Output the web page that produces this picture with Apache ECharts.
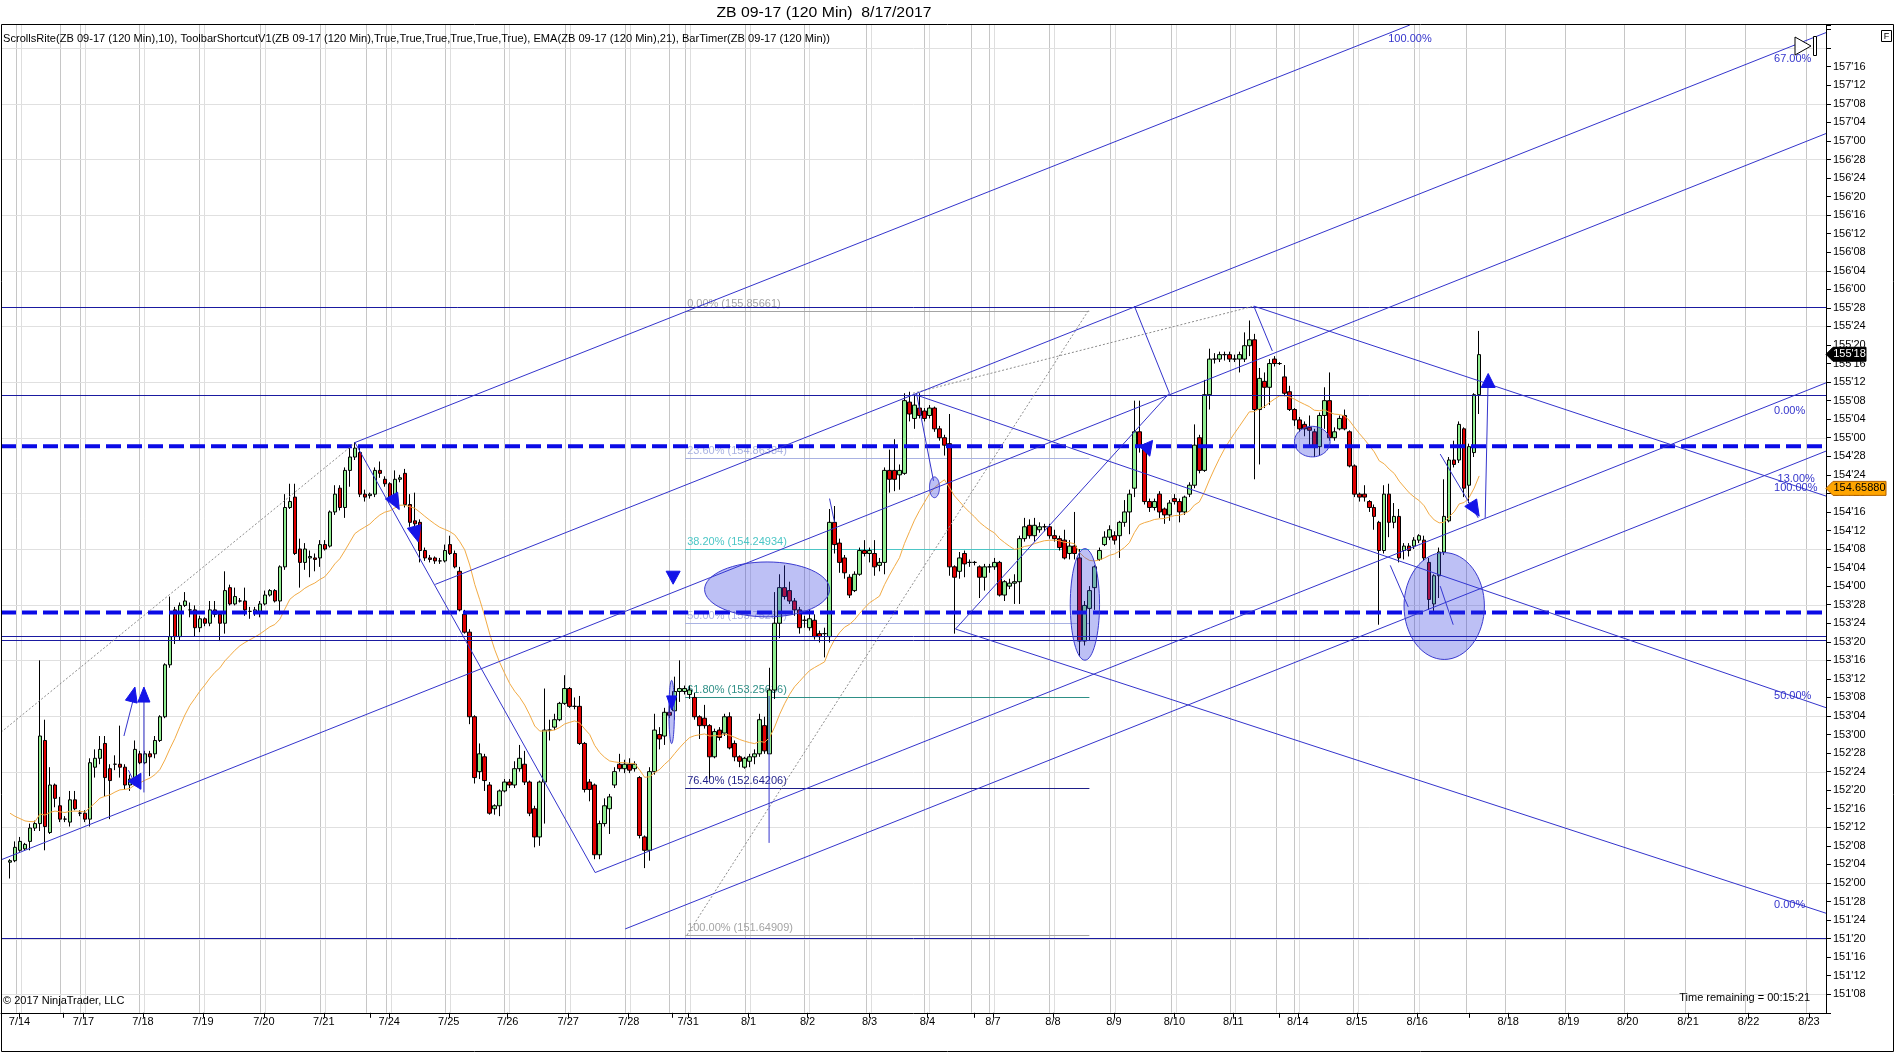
<!DOCTYPE html>
<html><head><meta charset="utf-8">
<script src="https://cdn.jsdelivr.net/npm/echarts@6/dist/echarts.min.js"></script>
<style>html,body{margin:0;padding:0;background:#fff;}#c{width:1896px;height:1055px;}</style>
</head><body><div id="c"></div>
<script>
// ---------- DATA (prices, 120-min bars, index 0..294) ----------
const opens = [152.14,152.15,152.22,152.23,152.28,152.37,152.40,152.96,152.34,152.66,
152.52,152.43,152.41,152.56,152.47,152.47,152.43,152.78,152.84,152.94,
152.77,152.80,152.80,152.78,152.66,152.71,152.87,152.81,152.87,152.87,
152.96,153.12,153.47,153.84,153.66,153.87,153.84,153.84,153.72,153.78,
153.75,153.84,153.81,153.75,153.99,153.88,153.90,153.90,153.83,153.82,
153.83,153.88,153.94,153.97,153.90,154.13,154.53,154.60,154.25,154.16,
154.19,154.19,154.19,154.28,154.27,154.50,154.66,154.53,154.78,154.87,
154.90,154.62,154.61,154.62,154.78,154.72,154.69,154.60,154.72,154.76,
154.55,154.44,154.43,154.24,154.19,154.19,154.17,154.17,154.28,154.22,
154.10,153.81,153.69,153.12,152.75,152.85,152.66,152.50,152.52,152.62,
152.68,152.66,152.77,152.80,152.68,152.50,152.31,152.68,153.03,153.05,
153.10,153.21,153.31,153.19,153.19,152.94,152.68,152.66,152.19,152.40,
152.50,152.66,152.80,152.77,152.80,152.77,152.71,152.31,152.22,152.75,
153.00,152.99,153.15,153.16,153.29,153.29,153.27,153.25,153.12,153.11,
153.06,152.85,153.03,153.01,153.12,152.94,152.85,152.78,152.82,152.85,
152.87,153.06,152.87,153.30,153.75,153.99,153.97,153.90,153.84,153.77,
153.72,153.77,153.68,153.68,153.66,154.43,154.29,154.19,154.06,153.97,
154.08,154.24,154.22,154.22,154.14,154.16,154.78,154.78,154.75,154.76,
155.24,155.13,155.20,155.18,155.15,155.20,155.06,155.00,154.96,154.13,
154.10,154.22,154.16,154.16,154.13,154.06,154.13,154.13,154.16,153.94,
154.00,154.02,154.03,154.32,154.41,154.34,154.38,154.40,154.40,154.34,
154.32,154.31,154.22,154.27,154.19,153.63,153.85,153.99,154.18,154.28,
154.33,154.34,154.34,154.43,154.50,154.66,155.04,154.94,154.57,154.53,
154.62,154.52,154.48,154.59,154.57,154.50,154.62,154.68,155.00,154.78,
155.29,155.53,155.53,155.56,155.56,155.53,155.53,155.53,155.62,155.66,
155.19,155.38,155.34,155.53,155.50,155.41,155.31,155.19,155.12,155.09,
155.07,155.04,154.94,155.15,155.25,155.00,155.06,155.15,155.04,154.81,
154.62,154.62,154.57,154.53,154.43,154.24,154.62,154.43,154.47,154.24,
154.27,154.27,154.31,154.31,154.16,153.88,154.07,154.23,154.44,154.85,
154.85,155.06,154.68,154.90,155.29];
const highs = [152.16,152.28,152.31,152.27,152.40,152.42,153.50,153.10,152.78,152.67,
152.58,152.45,152.62,152.62,152.49,152.49,152.84,152.90,152.99,152.99,
152.80,152.86,153.06,152.80,152.73,152.96,152.89,152.89,152.89,152.99,
153.13,153.48,153.93,153.86,153.89,153.96,153.89,153.87,153.80,153.79,
153.90,153.90,153.83,154.10,154.01,153.99,153.92,153.99,153.86,153.86,
153.90,153.97,153.98,153.98,154.14,154.62,154.69,154.69,154.32,154.29,
154.24,154.22,154.31,154.31,154.51,154.68,154.68,154.80,154.93,154.97,
154.93,154.65,154.63,154.80,154.84,154.74,154.70,154.78,154.75,154.79,
154.62,154.63,154.45,154.26,154.21,154.20,154.19,154.28,154.34,154.24,
154.13,153.84,153.71,153.13,152.94,152.87,152.68,152.53,152.63,152.70,
152.70,152.82,152.93,152.89,152.69,152.52,152.69,153.31,153.10,153.14,
153.22,153.40,153.32,153.25,153.26,152.95,152.70,152.67,152.42,152.57,
152.60,152.78,152.87,152.83,152.84,152.82,152.72,152.32,152.78,153.14,
153.05,153.18,153.20,153.39,153.50,153.33,153.33,153.28,153.13,153.20,
153.07,153.04,153.05,153.14,153.15,152.96,152.86,152.85,152.87,152.90,
153.14,153.12,153.45,153.96,154.08,154.14,154.03,153.92,153.86,153.80,
153.84,153.81,153.70,153.72,154.52,154.54,154.32,154.21,154.08,154.10,
154.26,154.31,154.26,154.31,154.19,154.80,154.92,154.99,154.82,155.30,
155.31,155.29,155.30,155.20,155.22,155.21,155.08,155.02,155.16,154.14,
154.23,154.24,154.18,154.17,154.14,154.15,154.15,154.19,154.17,154.04,
154.05,154.08,154.34,154.46,154.45,154.46,154.43,154.42,154.42,154.38,
154.34,154.38,154.31,154.50,154.25,153.90,154.00,154.14,154.26,154.37,
154.41,154.37,154.44,154.58,154.65,155.25,155.25,154.96,154.59,154.59,
154.64,154.53,154.58,154.62,154.59,154.61,154.70,155.09,155.02,155.39,
155.60,155.57,155.58,155.58,155.58,155.56,155.58,155.71,155.79,155.70,
155.47,155.44,155.53,155.55,155.51,155.49,155.35,155.20,155.14,155.11,
155.15,155.06,155.17,155.34,155.44,155.07,155.15,155.19,155.05,154.82,
154.63,154.68,154.58,154.55,154.44,154.68,154.69,154.56,154.52,154.29,
154.29,154.33,154.35,154.34,154.19,154.08,154.26,154.72,154.87,154.98,
155.11,155.07,154.96,155.30,155.72];
const lows = [152.03,152.14,152.21,152.22,152.22,152.35,152.35,152.22,152.33,152.51,
152.41,152.41,152.38,152.49,152.45,152.41,152.38,152.71,152.80,152.58,
152.43,152.76,152.71,152.63,152.62,152.67,152.80,152.80,152.72,152.84,
152.95,153.11,153.45,153.61,153.63,153.86,153.79,153.66,153.69,153.73,
153.73,153.79,153.63,153.68,153.87,153.87,153.89,153.80,153.78,153.80,
153.79,153.87,153.93,153.89,153.81,154.11,154.52,154.21,153.99,154.11,
154.06,154.10,154.13,154.24,154.26,154.48,154.51,154.46,154.67,154.85,
154.60,154.57,154.59,154.60,154.73,154.67,154.58,154.55,154.70,154.53,
154.40,154.38,154.16,154.17,154.16,154.15,154.15,154.16,154.21,154.12,
153.83,153.68,153.07,152.67,152.70,152.62,152.46,152.46,152.45,152.61,
152.64,152.64,152.75,152.66,152.45,152.24,152.25,152.40,152.96,153.03,
153.09,153.20,153.18,153.17,152.93,152.61,152.55,152.16,152.16,152.38,
152.33,152.64,152.75,152.74,152.74,152.75,152.30,152.10,152.15,152.73,
152.90,152.93,153.11,153.10,153.22,153.27,153.24,153.10,152.97,153.04,
152.70,152.84,152.96,152.99,152.90,152.82,152.78,152.77,152.78,152.80,
152.85,152.87,152.87,153.24,153.65,153.91,153.88,153.80,153.68,153.72,
153.70,153.64,153.62,153.52,153.62,154.22,154.09,154.05,153.92,153.96,
154.07,154.20,154.16,154.07,154.10,154.08,154.63,154.64,154.65,154.75,
155.11,155.06,155.13,155.11,155.13,155.04,154.98,154.88,154.07,153.68,
154.05,154.06,154.13,154.14,153.92,153.97,154.09,154.11,153.93,153.90,
153.98,153.88,153.88,154.30,154.32,154.30,154.36,154.37,154.32,154.30,
154.24,154.18,154.18,154.18,153.53,153.60,153.63,153.84,154.17,154.27,
154.31,154.28,154.19,154.40,154.35,154.60,154.90,154.55,154.50,154.51,
154.46,154.42,154.44,154.55,154.43,154.48,154.60,154.66,154.76,154.77,
155.19,155.50,155.51,155.52,155.51,155.51,155.44,155.51,155.55,154.72,
154.82,155.20,155.22,155.48,155.49,155.28,155.18,155.08,155.04,155.01,
154.95,154.87,154.88,155.06,154.98,154.98,155.05,155.05,154.80,154.60,
154.57,154.57,154.50,154.38,153.74,154.22,154.33,154.39,154.16,154.18,
154.20,154.25,154.29,154.17,153.84,153.82,153.92,154.21,154.43,154.80,
154.83,154.60,154.56,154.87,155.16];
const closes = [152.15,152.24,152.28,152.26,152.37,152.40,152.99,152.38,152.66,152.57,
152.43,152.43,152.56,152.50,152.47,152.43,152.81,152.84,152.90,152.71,
152.69,152.80,152.78,152.66,152.70,152.90,152.81,152.87,152.85,152.96,
153.12,153.47,153.66,153.66,153.87,153.90,153.84,153.72,153.78,153.75,
153.84,153.81,153.75,153.97,153.88,153.93,153.90,153.84,153.83,153.84,
153.88,153.94,153.97,153.90,154.13,154.53,154.57,154.22,154.16,154.25,
154.20,154.18,154.28,154.25,154.50,154.62,154.53,154.78,154.87,154.93,
154.62,154.60,154.62,154.78,154.76,154.69,154.60,154.72,154.73,154.55,
154.43,154.42,154.24,154.19,154.18,154.17,154.17,154.24,154.22,154.13,
153.84,153.69,153.12,152.71,152.87,152.69,152.47,152.52,152.62,152.68,
152.66,152.77,152.84,152.68,152.47,152.31,152.68,153.03,153.03,153.10,
153.21,153.31,153.19,153.19,152.94,152.63,152.63,152.19,152.40,152.52,
152.58,152.75,152.77,152.80,152.76,152.80,152.32,152.22,152.75,153.03,
152.97,153.15,153.13,153.29,153.31,153.31,153.30,153.12,153.06,153.06,
152.85,153.02,152.98,153.12,152.91,152.85,152.82,152.84,152.85,152.87,
153.10,152.89,153.30,153.75,153.99,153.93,153.90,153.84,153.72,153.77,
153.78,153.66,153.66,153.68,154.43,154.28,154.16,154.09,153.94,154.08,
154.24,154.22,154.24,154.13,154.16,154.78,154.72,154.72,154.78,155.25,
155.16,155.22,155.15,155.13,155.20,155.06,155.00,154.95,154.13,154.06,
154.19,154.15,154.16,154.16,154.06,154.13,154.13,154.16,153.94,154.03,
154.02,154.03,154.32,154.40,154.34,154.41,154.40,154.40,154.34,154.32,
154.26,154.19,154.27,154.22,153.63,153.87,153.97,154.13,154.24,154.33,
154.38,154.31,154.43,154.50,154.62,155.04,154.94,154.57,154.53,154.57,
154.50,154.48,154.56,154.57,154.50,154.60,154.68,154.95,154.78,155.29,
155.53,155.53,155.56,155.56,155.53,155.53,155.56,155.62,155.66,155.19,
155.40,155.34,155.50,155.50,155.50,155.30,155.19,155.12,155.06,155.06,
155.05,154.94,155.15,155.25,155.00,155.04,155.13,155.06,154.81,154.62,
154.60,154.60,154.53,154.47,154.24,154.62,154.43,154.47,154.19,154.27,
154.24,154.31,154.34,154.19,153.91,154.07,154.23,154.47,154.85,154.82,
155.09,154.66,154.94,155.29,155.56];
const emaStart = 152.47;      // EMA(21) value at the first visible bar
const emaPeriod = 21;

// x axis (bar index positions of date labels)
const dateLabels = ['7/14','7/17','7/18','7/19','7/20','7/21','7/24','7/25','7/26','7/27','7/28','7/31','8/1','8/2','8/3','8/4','8/7','8/8','8/9','8/10','8/11','8/14','8/15','8/16','8/18','8/19','8/20','8/21','8/22','8/23'];
const dateIdx = [1.9,14.7,26.6,38.6,50.8,62.8,75.9,87.8,99.6,111.7,123.8,135.7,147.8,159.6,172.0,183.6,196.7,208.7,220.9,233.0,244.8,257.7,269.5,281.6,299.8,311.9,323.7,335.8,347.9,360.0];
const extraTickIdx = [10.7,72.0,132.5,193.0,254.0,292.0];
const hGridLevels = [151.25,151.625,152.0,152.375,152.75,153.125,153.5,153.875,154.25,154.625,155.0,155.375,155.75,156.125,156.5,156.875,157.25,157.625];

// horizontal drawing levels
const solidLevels = [155.88,155.29,153.662,153.640,151.63];
const dashedLevels = [154.943,153.822];

// fibonacci retracement
const fibPct = ['0.00%','23.60%','38.20%','50.00%','61.80%','76.40%','100.00%'];
const fibVal = [155.85661,154.86384,154.24934,153.75285,153.25636,152.64206,151.64909];
const fibColor = ['#a4a4a4','#a9b2e2','#4cc6c6','#a9b2e2','#2e8f86','#1e1e88','#a4a4a4'];
const fibStart = 135.1, fibEnd = 216.0;

// trend / pitchfork lines [x1,p1,x2,p2]
const pitchLines = [
 [68.9,154.966,290,157.913],[85.1,154.012,363.4,157.73],[-2.0,152.153,363.4,157.05],
 [69.0,154.97,117.1,152.07],[117.1,152.07,363.4,155.37],[123.1,151.69,363.4,154.91],
 [181.2,155.29,363.4,153.181],[189.2,153.711,363.4,151.796],[248.9,155.887,363.4,154.607],
 [189.2,153.711,232.0,155.30],[225.0,155.887,232.0,155.30],[181.4,155.30,184.8,154.71],
 [248.9,155.887,252.6,155.585],
 [286.2,154.89,293.8,154.46],[295.2,154.46,295.8,155.41],[276.2,154.14,279.8,153.86],
 [286.2,154.00,288.8,153.74],[22.8,152.99,25.0,153.28],[26.8,152.61,26.8,153.28],
 [23.7,152.76,24.7,152.69],[151.9,153.26,151.9,152.27],[164.0,154.59,165.0,154.43]
];
const dottedLines = [[-2.0,153.01,68.9,154.96],[135.5,151.65,215.8,155.857],[180.7,155.30,248.9,155.887]];
// ellipses [centerIdx, centerPrice, radiusBars, radiusPrice]
const ellipses = [[151.5,153.978,12.5,0.185],[215.1,153.877,2.93,0.376],[185.0,154.666,1.0,0.07],[260.6,154.974,3.57,0.103],[287.0,153.866,8.04,0.36],[132.4,153.152,0.55,0.213]];
// arrows [tipIdx, tipPrice, angleDeg, length, halfWidth]
const arrows = [[25.0,153.32,-76,15,6],[26.8,153.32,-90,15,6],[23.6,152.685,180,13,8],[77.9,154.516,61,16,7],[81.7,154.298,75,16,7],[132.7,154.013,90,13,7],[132.4,153.166,90,14,5],[226.0,154.943,190,12,8],[295.8,155.433,-90,14,7],[294.0,154.471,58,16,7]];
// percentage labels of the pitchforks
const pctText = ['100.00%','67.00%','0.00%','13.00%','100.00%','50.00%','0.00%'];
const pctIdx = [275.8,353.0,353.0,353.7,353.0,353.0,353.0];
const pctPrice = [157.687,157.549,155.178,154.72,154.664,153.263,151.853];
// right axis markers
const markerPrice = [155.5625,154.6588];
const markerText = ["155'18",'154.65880'];

// ---------- CHART ----------
const X0 = -1.8, X1 = 363.4, Y0 = 151.125, Y1 = 157.78125;
const FONT = '"Liberation Sans", Arial, sans-serif';
const chart = echarts.init(document.getElementById('c'));

function clipSeg(x1,y1,x2,y2,r){
  let t0=0,t1=1; const dx=x2-x1, dy=y2-y1;
  const p=[-dx,dx,-dy,dy], q=[x1-r.x, r.x+r.width-x1, y1-r.y, r.y+r.height-y1];
  for(let i=0;i<4;i++){
    if(p[i]===0){ if(q[i]<0) return null; }
    else { const t=q[i]/p[i]; if(p[i]<0){ if(t>t1) return null; if(t>t0) t0=t; } else { if(t<t0) return null; if(t<t1) t1=t; } }
  }
  return [x1+t0*dx, y1+t0*dy, x1+t1*dx, y1+t1*dy];
}
function segSeries(arr, stroke, width, dash, z){
  return { type:'custom', z:z, silent:true, data: arr.map(s=>[s[0],s[1],s[2],s[3]]),
    renderItem:(params, api)=>{
      const a=api.coord([api.value(0),api.value(1)]), b=api.coord([api.value(2),api.value(3)]);
      const c=clipSeg(a[0],a[1],b[0],b[1],params.coordSys); if(!c) return;
      return {type:'line', shape:{x1:c[0],y1:c[1],x2:c[2],y2:c[3]}, style:{stroke:stroke,lineWidth:width,lineDash:dash||null}};
    }};
}
function fmt32(v){
  if (v < 151.2 || v > 157.55) return '';
  const i = Math.floor(v + 1e-9); const t = Math.round((v - i) * 32);
  return i + "'" + String(t).padStart(2,'0');
}
function dateFor(v){ let k=0, best=1e9; dateIdx.forEach((d,i)=>{ if(Math.abs(d-v)<best){best=Math.abs(d-v);k=i;} }); return dateLabels[k]; }

const candleData = opens.map((o,i)=>[i,o,closes[i],lows[i],highs[i]]);
// EMA(21) of the closes, as plotted by the original indicator
const emaData = []; let e = emaStart;
closes.forEach((c,i)=>{ if(i>0) e = e + (c-e)*2/(emaPeriod+1); emaData.push([i, e]); });

const vGrid = [];
dateIdx.forEach(d=>{ vGrid.push([d-0.7,0]); if(d<295) vGrid.push([d+0.3,1]); });
extraTickIdx.forEach(d=>vGrid.push([d-0.7,0]));

const mctx = document.createElement('canvas').getContext('2d');
function measure(t, font){ mctx.font = font; return mctx.measureText(t).width; }
const indText = 'ScrollsRite(ZB 09-17 (120 Min),10), ToolbarShortcutV1(ZB 09-17 (120 Min),True,True,True,True,True,True), EMA(ZB 09-17 (120 Min),21), BarTimer(ZB 09-17 (120 Min))';
const indScale = 827 / measure(indText, '11px ' + FONT);
const titleText = 'ZB 09-17 (120 Min)  8/17/2017';
const titleScale = 215 / measure(titleText, '14px ' + FONT);

const option = {
  animation:false, backgroundColor:'#fff',
  grid:{left:1, right:70, top:25, bottom:42.2, show:false},
  xAxis:{type:'value', min:X0, max:X1,
    axisLine:{show:true,onZero:false,lineStyle:{color:'#000',width:1}},
    axisTick:{show:true, customValues: dateIdx.concat(extraTickIdx), length:5, lineStyle:{color:'#000'}},
    axisLabel:{show:true, customValues: dateIdx, formatter: v=>dateFor(v), color:'#000', fontSize:11, fontFamily:FONT, margin:4},
    splitLine:{show:false}},
  yAxis:{type:'value', position:'right', min:Y0, max:Y1, interval:0.125, scale:true,
    axisLine:{show:true,onZero:false,lineStyle:{color:'#000'}},
    axisTick:{show:true,length:5,lineStyle:{color:'#000'}},
    axisLabel:{formatter:fmt32, color:'#000', fontSize:11, fontFamily:FONT, margin:7},
    splitLine:{show:false}},
  graphic:[
    {type:'rect', shape:{x:1.5,y:24.5,width:1892,height:1027}, style:{fill:null, stroke:'#000', lineWidth:1}, z:100, silent:true},
    {type:'text', x:944.5, y:13, scaleX:titleScale, originX:944.5, style:{text:titleText, font:'14px '+FONT, fill:'#000', align:'center', verticalAlign:'middle'}, z:100},
    {type:'text', x:3, y:39, scaleX:indScale, style:{text:indText, font:'11px '+FONT, fill:'#000', align:'left', verticalAlign:'middle'}, z:100},
    {type:'text', x:3, y:1001, style:{text:'\u00a9 2017 NinjaTrader, LLC', font:'11px '+FONT, fill:'#000', align:'left', verticalAlign:'middle'}, z:100},
    {type:'text', x:1810, y:998, style:{text:'Time remaining = 00:15:21', font:'11px '+FONT, fill:'#000', align:'right', verticalAlign:'middle'}, z:100},
    {type:'rect', shape:{x:1881.5,y:30.5,width:10,height:11}, style:{fill:'#fff', stroke:'#000', lineWidth:1}, z:100},
    {type:'text', x:1886.5, y:36.5, style:{text:'F', font:'9px '+FONT, fill:'#000', align:'center', verticalAlign:'middle'}, z:101},
    {type:'polygon', shape:{points:[[1795,37],[1795,55],[1811,46]]}, style:{fill:'#fff', stroke:'#000', lineWidth:1}, z:100},
    {type:'rect', shape:{x:1813.5,y:36.5,width:3,height:19}, style:{fill:'#fff', stroke:'#000', lineWidth:1}, z:100}
  ],
  series:[
    // vertical grid
    {type:'custom', z:0, silent:true, data:vGrid, renderItem:(params,api)=>{
      const x=api.coord([api.value(0),Y0])[0]; const r=params.coordSys;
      if(x<r.x||x>r.x+r.width) return;
      const xx=Math.round(x)+0.5;
      return {type:'line', shape:{x1:xx,y1:r.y,x2:xx,y2:r.y+r.height}, style:{stroke: api.value(1)===0?'#c6c6c6':'#dedede', lineWidth:1}};
    }},
    // horizontal grid
    {type:'custom', z:0, silent:true, data:hGridLevels.map(p=>[X0,p]), renderItem:(params,api)=>{
      const y=Math.round(api.coord([X0,api.value(1)])[1])+0.5; const r=params.coordSys;
      return {type:'line', shape:{x1:r.x,y1:y,x2:r.x+r.width,y2:y}, style:{stroke:'#e0e0e0', lineWidth:1}};
    }},
    // fibonacci retracement
    {type:'custom', z:1, silent:true, data:fibVal.map(v=>[fibStart,v]), renderItem:(params,api)=>{
      const i=params.dataIndex; const a=api.coord([fibStart,fibVal[i]]), b=api.coord([fibEnd,fibVal[i]]);
      const y=Math.round(a[1])+0.5;
      return {type:'group', children:[
        {type:'line', shape:{x1:a[0],y1:y,x2:b[0],y2:y}, style:{stroke:fibColor[i], lineWidth:1}},
        {type:'text', x:a[0]+2, y:y-2, style:{text:fibPct[i]+' ('+fibVal[i].toFixed(5)+')', fill:fibColor[i], font:'11px '+FONT, align:'left', verticalAlign:'bottom'}}
      ]};
    }},
    // candles
    {type:'candlestick', z:3, data:candleData, encode:{x:0, y:[1,2,3,4]}, barWidth:4,
      itemStyle:{color:'#90ee90', color0:'#e00000', borderColor:'#000', borderColor0:'#000', borderWidth:1}},
    // EMA
    {type:'line', z:4, data:emaData, showSymbol:false, symbol:'none', silent:true, lineStyle:{color:'#f2ab45', width:1}},
    // solid horizontal levels
    {type:'custom', z:5, silent:true, data:solidLevels.map(p=>[X0,p]), renderItem:(params,api)=>{
      const y=Math.round(api.coord([X0,api.value(1)])[1])+0.5; const r=params.coordSys;
      return {type:'line', shape:{x1:r.x,y1:y,x2:r.x+r.width,y2:y}, style:{stroke:'#1a1aa0', lineWidth:1}};
    }},
    // dashed thick levels
    {type:'custom', z:5, silent:true, data:dashedLevels.map(p=>[X0,p]), renderItem:(params,api)=>{
      const y=api.coord([X0,api.value(1)])[1]; const r=params.coordSys;
      return {type:'line', shape:{x1:r.x,y1:y,x2:r.x+r.width,y2:y}, style:{stroke:'#0a0ae6', lineWidth:4, lineDash:[15,6]}};
    }},
    segSeries(dottedLines, '#8c8c8c', 1, [2,2], 5),
    segSeries(pitchLines, '#3434cc', 1, null, 5),
    // ellipses
    {type:'custom', z:6, silent:true, data:ellipses.map(e=>[e[0],e[1]]), renderItem:(params,api)=>{
      const el=ellipses[params.dataIndex]; const c=api.coord([el[0],el[1]]); const s=api.size([el[2],el[3]]);
      const pts=[]; for(let k=0;k<64;k++){ const t=k/64*Math.PI*2; pts.push([c[0]+s[0]*Math.cos(t), c[1]+s[1]*Math.sin(t)]); }
      return {type:'polygon', shape:{points:pts}, style:{fill:'rgba(50,60,225,0.32)', stroke:'#3a3ad0', lineWidth:1}};
    }},
    // arrows
    {type:'custom', z:7, silent:true, data:arrows.map(a=>[a[0],a[1]]), renderItem:(params,api)=>{
      const ar=arrows[params.dataIndex]; const t=api.coord([ar[0],ar[1]]); const ang=ar[2]*Math.PI/180;
      const ux=Math.cos(ang), uy=Math.sin(ang); const bx=t[0]-ar[3]*ux, by=t[1]-ar[3]*uy;
      return {type:'polygon', shape:{points:[[t[0],t[1]],[bx-ar[4]*uy,by+ar[4]*ux],[bx+ar[4]*uy,by-ar[4]*ux]]}, style:{fill:'#1414e8', stroke:'#1414e8', lineWidth:1}};
    }},
    // percentage labels
    {type:'custom', z:8, silent:true, data:pctIdx.map((x,i)=>[x,pctPrice[i]]), renderItem:(params,api)=>{
      const i=params.dataIndex; const p=api.coord([pctIdx[i],pctPrice[i]]);
      return {type:'text', x:p[0], y:p[1], style:{text:pctText[i], fill:'#3434cc', font:'11px '+FONT, align:'left', verticalAlign:'middle'}};
    }},
    // right axis price markers
    {type:'custom', z:20, silent:true, data:markerPrice.map(p=>[X1,p]), renderItem:(params,api)=>{
      const i=params.dataIndex; const p=api.coord([X1,markerPrice[i]]); const x0=p[0], y=p[1];
      const w = i===0 ? 40 : 60; const fill = i===0 ? '#000' : '#ffa500';
      return {type:'group', children:[
        {type:'polygon', shape:{points:[[x0,y],[x0+7,y-7],[x0+w,y-7],[x0+w,y+7],[x0+7,y+7]]}, style:{fill:fill, stroke: i===0?'#000':'#b06000', lineWidth:1}},
        {type:'text', x:x0+7+(w-7)/2, y:y, style:{text:markerText[i], fill: i===0?'#fff':'#000', font:'11px '+FONT, align:'center', verticalAlign:'middle'}}
      ]};
    }}
  ]
};
chart.setOption(option);
</script></body></html>
